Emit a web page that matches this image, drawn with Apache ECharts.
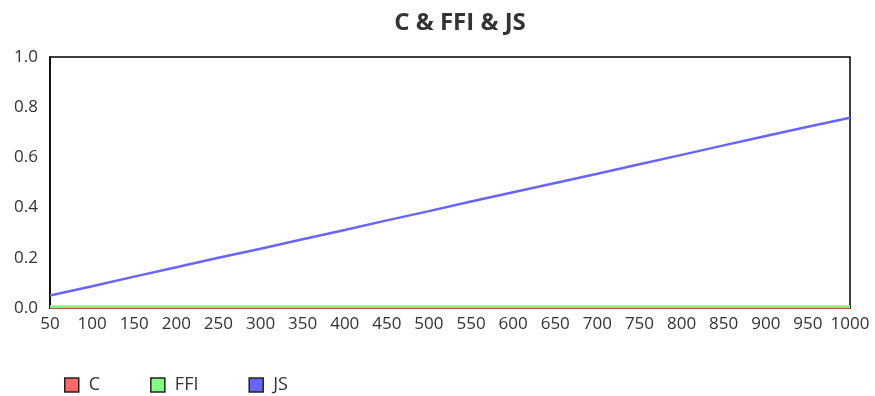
<!DOCTYPE html>
<html><head><meta charset="utf-8">
<script src="https://cdn.jsdelivr.net/npm/echarts@6/dist/echarts.min.js"></script>
<style>html,body{margin:0;padding:0;background:#fff}#c{width:875px;height:396px}</style>
</head><body><div id="c"></div>
<script>
const xValues = [50,100,150,200,250,300,350,400,450,500,550,600,650,700,750,800,850,900,950,1000];
const cValues = [0.002,0.002,0.002,0.002,0.002,0.002,0.002,0.002,0.002,0.002,0.002,0.002,0.002,0.002,0.002,0.002,0.002,0.002,0.002,0.002];
const ffiValues = [0.006,0.006,0.006,0.006,0.006,0.006,0.006,0.006,0.006,0.006,0.006,0.006,0.006,0.006,0.006,0.006,0.006,0.006,0.006,0.006];
const jsValues = [0.05,0.087,0.125,0.162,0.2,0.236,0.274,0.311,0.349,0.386,0.424,0.461,0.498,0.535,0.573,0.61,0.648,0.685,0.722,0.758];
const yTicks = [0,0.2,0.4,0.6,0.8,1.0];
const seriesNames = ['C','FFI','JS'];
const colors = ['#ff6666','#80ff80','#6666ff'];

const font = '"Open Sans", "Noto Sans", sans-serif';
const chart = echarts.init(document.getElementById('c'));
const mk = (name, vals, color) => ({
  name, type:'line', data: xValues.map((x,i)=>[x, vals[i]]),
  showSymbol:false, symbol:'none', lineStyle:{color, width:2.5}, itemStyle:{color}
});
chart.setOption({
  animation:false,
  title:{text:'C & FFI & JS', left:455, top:6, textAlign:'center',
    textStyle:{fontFamily:font, fontSize:24, fontWeight:'bold', color:'#333'}},
  grid:{left:50, right:25, top:57, bottom:88},
  xAxis:{type:'value', min:50, max:1000, interval:50,
    axisLine:{lineStyle:{color:'#000', width:1.5}}, axisTick:{show:false},
    splitLine:{show:false},
    axisLabel:{fontFamily:font, fontSize:17, color:'#333', margin:8, formatter:v=>String(v)}},
  yAxis:{type:'value', min:0, max:1, interval:0.2,
    axisLine:{show:true, lineStyle:{color:'#000', width:1.5}}, axisTick:{show:false},
    splitLine:{show:false},
    axisLabel:{fontFamily:font, fontSize:17, color:'#333', margin:12,
      formatter:v=>v.toFixed(1)}},
  legend:{left:59, top:371, itemWidth:14, itemHeight:14, itemGap:50,
    icon:'rect', textStyle:{fontFamily:font, fontSize:18, color:'#333', padding:[0,0,0,5]},
    data: seriesNames.map((n,i)=>({name:n, itemStyle:{color:colors[i], borderColor:'#222', borderWidth:1.5}}))},
  series:[
    mk(seriesNames[0], cValues, colors[0]),
    mk(seriesNames[1], ffiValues, colors[1]),
    mk(seriesNames[2], jsValues, colors[2])
  ],
  graphic:[{type:'rect', shape:{x:50, y:57, width:800, height:251}, style:{fill:'none', stroke:'#000', lineWidth:1.5}, silent:true}]
});
</script></body></html>
